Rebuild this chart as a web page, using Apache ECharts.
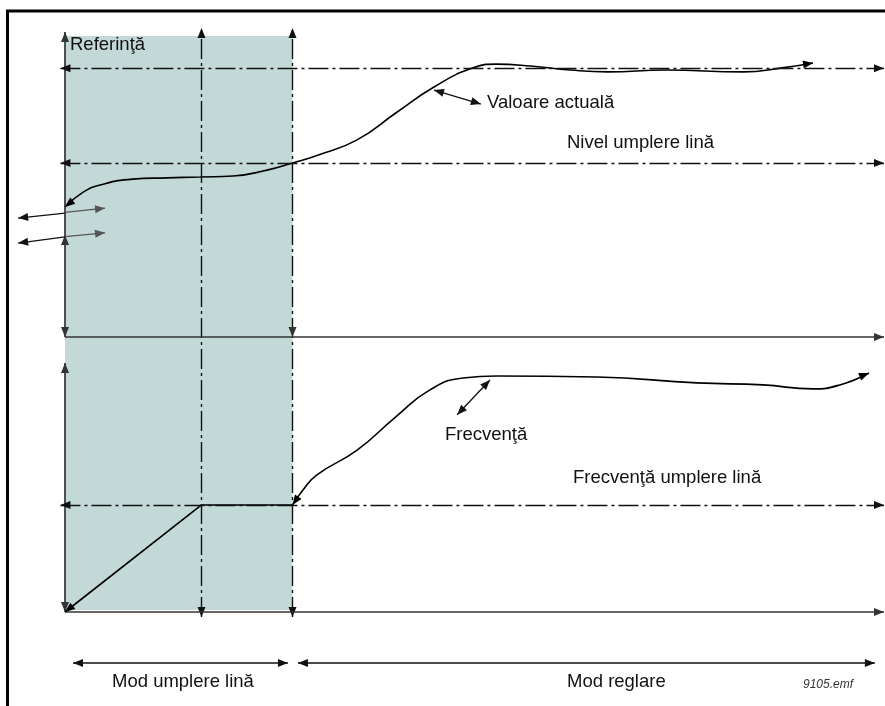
<!DOCTYPE html>
<html><head><meta charset="utf-8">
<script src="https://cdn.jsdelivr.net/npm/echarts@6/dist/echarts.min.js"></script>
<style>html,body{margin:0;padding:0;background:#fff}#c{width:885px;height:706px}</style>
</head><body><div id="c"></div>
<script>
// ---- data (time in arbitrary units, level in %, frequency in Hz) ----
const actualT = [0, 0.40, 0.77, 1.49, 2.24, 2.97, 3.69, 4.44, 5.0, 5.57, 6.42, 7.27, 8.11, 8.97, 9.47, 10.24, 11.10, 11.93, 13.21, 14.90, 15.76, 16.44];
const actualV = [42.1, 46.9, 49.2, 51.1, 51.5, 51.8, 52.1, 54.0, 56.3, 58.9, 63.8, 72.5, 80.9, 87.1, 88.3, 87.7, 86.4, 85.8, 86.4, 85.8, 87.1, 88.7];
const freqT = [5.0, 5.23, 5.53, 6.42, 7.27, 8.02, 8.75, 9.49, 11.69, 13.89, 15.34, 16.44, 17.03, 17.67];
const freqF = [21.5, 24.5, 27.5, 32.5, 39.2, 44.6, 47.0, 47.4, 47.2, 46.0, 45.6, 44.8, 45.6, 48.0];
const rampT = [0, 3, 5];
const rampF = [0, 21.5, 21.5];
const referenceLevel = 87;
const fillLevel = 56.3;
const fillFrequency = 21.5;
const phaseTimes = [0, 3, 5];
const tEnd = 18;
const labels = {
  ref: 'Referinţă', actual: 'Valoare actuală', fillLevel: 'Nivel umplere lină',
  freq: 'Frecvenţă', fillFreq: 'Frecvenţă umplere lină',
  modeFill: 'Mod umplere lină', modeReg: 'Mod reglare', file: '9105.emf'
};

// ---- helpers ----
const HEAD = 'path://M0,-10L0,-10M0,0L-4,10L4,10Z';
const DASHDOT = [20, 4, 3, 4];
const zip = (a, b) => a.map((v, i) => [v, b[i]]);
function seg(p1, p2, s1, s2) {
  return [{coord: p1, symbol: s1 ? HEAD : 'none'}, {coord: p2, symbol: s2 ? HEAD : 'none'}];
}
function carrier(idx, color, width, type, data, z) {
  return {
    type: 'line', xAxisIndex: idx, yAxisIndex: idx, data: [], z: z || 3, silent: true,
    markLine: {
      silent: true, symbol: ['none', 'none'], symbolSize: [8, 20], label: {show: false},
      emphasis: {disabled: true}, animation: false,
      lineStyle: {color: color, width: width, type: type, opacity: 1},
      data: data
    }
  };
}
function heads(T, V, atStart, atEnd) {
  const out = [];
  const n = T.length;
  if (atStart) out.push(seg([T[1], V[1]], [T[0], V[0]], false, true));
  if (atEnd) out.push(seg([T[n - 2], V[n - 2]], [T[n - 1], V[n - 1]], false, true));
  return out;
}

const FONT = "'Liberation Sans', Arial, sans-serif";
function txt(x, y, s, extra) {
  return {type: 'text', x: x, y: y, z: 10, style: Object.assign({
    text: s, fontSize: 18.5, fontFamily: FONT, fill: '#111', verticalAlign: 'middle'
  }, extra || {})};
}

const chart = echarts.init(document.getElementById('c'), null, {renderer: 'canvas'});
const gridBase = {left: 10.4, width: 873.6, outerBoundsMode: 'none', containLabel: false};
const curveStyle = {color: '#000', width: 1.6};
const option = {
  animation: false,
  backgroundColor: '#fff',
  grid: [
    Object.assign({top: 28, height: 309}, gridBase),
    Object.assign({top: 363, height: 249}, gridBase),
    Object.assign({top: 28, height: 662}, gridBase)
  ],
  xAxis: [0, 1, 2].map(i => ({type: 'value', gridIndex: i, min: -1.2, max: tEnd, show: false})),
  yAxis: [
    {type: 'value', gridIndex: 0, min: 0, max: 100, show: false},
    {type: 'value', gridIndex: 1, min: 0, max: 50, show: false},
    {type: 'value', gridIndex: 2, min: 0, max: 100, show: false}
  ],
  series: [
    // overlay: shaded fill-mode band
    {type: 'line', xAxisIndex: 2, yAxisIndex: 2, data: [], z: 0, silent: true,
     markArea: {silent: true, itemStyle: {color: '#c2d9d8'}, label: {show: false},
       data: [[{coord: [phaseTimes[0], 12.08]}, {coord: [phaseTimes[2], 98.79]}]]}},
    // overlay: phase dividers
    carrier(2, '#111', 1.4, DASHDOT, [
      seg([phaseTimes[1], 11.03], [phaseTimes[1], 100], true, true),
      seg([phaseTimes[2], 11.03], [phaseTimes[2], 100], true, true)
    ], 2),
    // overlay: mode arrows
    carrier(2, '#111', 1.5, 'solid', [
      seg([0.176, 4.08], [4.90, 4.08], true, true),
      seg([5.12, 4.08], [17.80, 4.08], true, true)
    ]),
    // top: axes
    carrier(0, '#333', 1.7, 'solid', [
      seg([0, 0], [tEnd, 0], false, true),
      seg([0, 0], [0, 98.7], true, true)
    ]),
    carrier(0, '#333', 0, 'solid', [
      seg([phaseTimes[2], 2], [phaseTimes[2], 0], false, true),
      seg([0, 31], [0, 33.0], false, true)
    ]),
    // top: left level arrows
    carrier(0, '#111', 1.3, 'solid', [
      seg([0, 40.1], [-1.03, 38.5], false, true),
      seg([0, 32.4], [-1.03, 30.4], false, true)
    ]),
    carrier(0, '#555', 1.3, 'solid', [
      seg([0, 40.3], [0.88, 41.7], false, true),
      seg([0, 32.5], [0.88, 33.7], false, true)
    ]),
    // top: reference & fill level
    carrier(0, '#111', 1.4, DASHDOT, [
      seg([-0.1, referenceLevel], [tEnd, referenceLevel], true, true),
      seg([-0.1, fillLevel], [tEnd, fillLevel], true, true)
    ]),
    // top: annotation arrow
    carrier(0, '#111', 1.3, 'solid', [seg([8.11, 79.9], [9.14, 75.4], true, true)]),
    // top: actual value curve
    {type: 'line', xAxisIndex: 0, yAxisIndex: 0, data: zip(actualT, actualV), smooth: 0.5,
     symbol: 'none', z: 4, silent: true, lineStyle: curveStyle},
    carrier(0, '#000', 0, 'solid', heads(actualT, actualV, true, true), 5),
    // bottom: axes
    carrier(1, '#333', 1.7, 'solid', [
      seg([0, 0], [tEnd, 0], false, true),
      seg([0, 0], [0, 50], true, true)
    ]),
    // bottom: fill frequency
    carrier(1, '#111', 1.4, DASHDOT, [
      seg([-0.1, fillFrequency], [tEnd, fillFrequency], true, true)
    ]),
    // bottom: annotation arrow
    carrier(1, '#111', 1.3, 'solid', [seg([9.34, 46.6], [8.62, 39.6], true, true)]),
    // bottom: ramp and frequency curve
    {type: 'line', xAxisIndex: 1, yAxisIndex: 1, data: zip(rampT, rampF), smooth: false,
     symbol: 'none', z: 4, silent: true, lineStyle: curveStyle},
    carrier(1, '#000', 0, 'solid', heads(rampT, rampF, true, false), 5),
    {type: 'line', xAxisIndex: 1, yAxisIndex: 1, data: zip(freqT, freqF), smooth: 0.5,
     symbol: 'none', z: 4, silent: true, lineStyle: curveStyle},
    carrier(1, '#000', 0, 'solid', heads(freqT, freqF, true, true), 5)
  ],
  graphic: [
    {type: 'line', z: 10, shape: {x1: 6, y1: 11, x2: 885, y2: 11}, style: {stroke: '#000', lineWidth: 3}},
    {type: 'line', z: 10, shape: {x1: 7.5, y1: 10, x2: 7.5, y2: 706}, style: {stroke: '#000', lineWidth: 3}},
    txt(70, 45, labels.ref),
    txt(487, 103, labels.actual),
    txt(567, 143, labels.fillLevel),
    txt(445, 435, labels.freq),
    txt(573, 478, labels.fillFreq),
    txt(112, 682, labels.modeFill),
    txt(567, 682, labels.modeReg),
    txt(803, 685, labels.file, {fontSize: 12, fontStyle: 'italic', fill: '#333'})
  ]
};
chart.setOption(option);
</script>
</body></html>
